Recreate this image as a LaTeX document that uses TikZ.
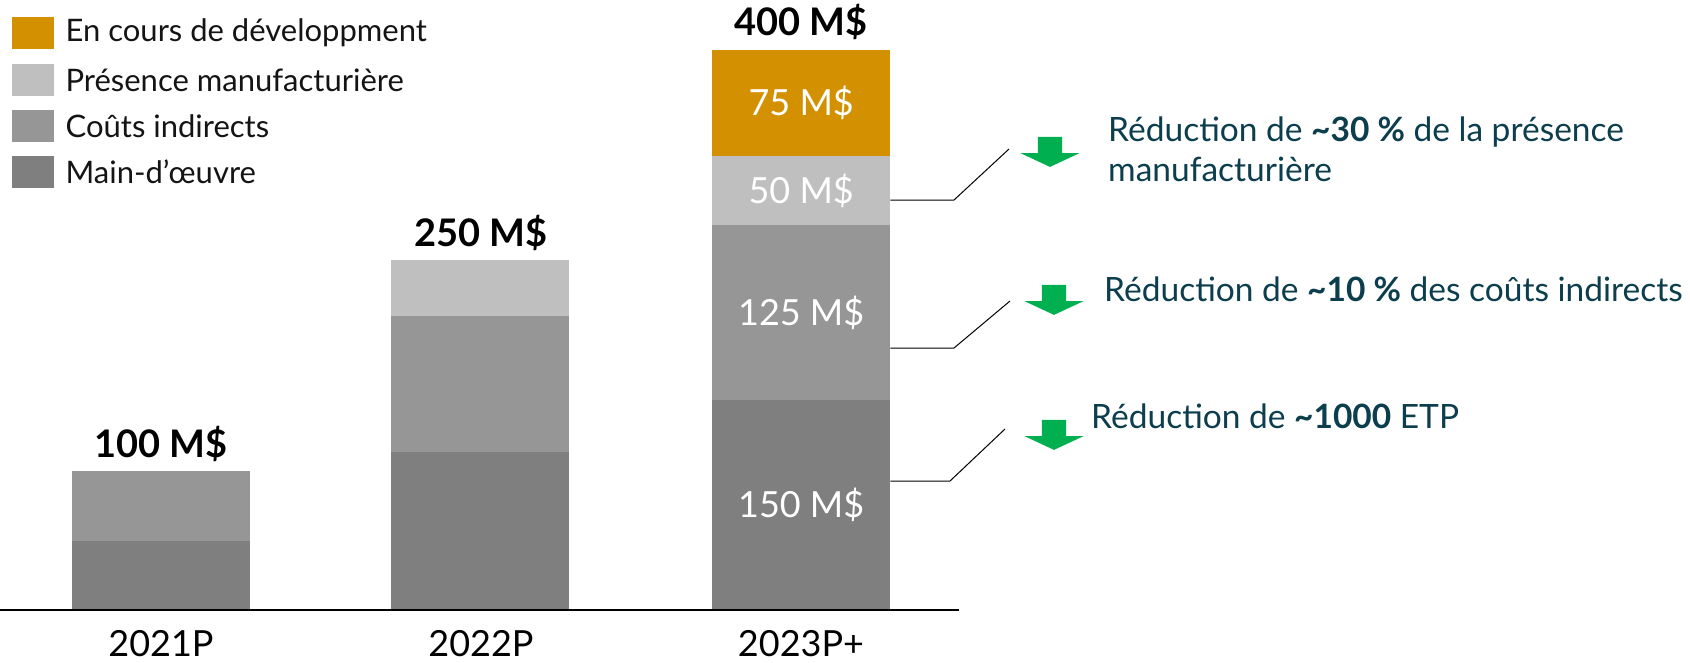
\documentclass[tikz,border=0pt]{standalone}
\usepackage{fontspec}
\setmainfont{Lato}
\usetikzlibrary{positioning,shapes.arrows}
\definecolor{devclr}{RGB}{211,144,0}
\definecolor{presclr}{RGB}{191,191,191}
\definecolor{indclr}{RGB}{150,150,150}
\definecolor{mainclr}{RGB}{127,127,127}
\definecolor{noteclr}{RGB}{12,62,78}
\definecolor{arrclr}{RGB}{0,176,80}
\definecolor{txtclr}{RGB}{20,20,20}
\tikzset{
  seg/.style={rectangle,inner sep=0pt,minimum width=178pt,anchor=north west,
    font=\fontsize{36}{42}\selectfont,text=white},
  tot/.style={font=\fontsize{38}{44}\selectfont\bfseries,text=black},
  yr/.style={font=\fontsize{36}{40}\selectfont,text=black,inner sep=0pt},
  key/.style={rectangle,inner sep=0pt,minimum width=42pt,minimum height=32pt,
    anchor=north west},
  keytxt/.style={font=\fontsize{31}{36}\selectfont,text=txtclr,anchor=west,
    inner sep=0pt},
  note/.style={font=\fontsize{33.5}{40}\selectfont,text=noteclr,anchor=west,
    align=left,inner sep=0pt},
  dnarr/.style={single arrow,shape border rotate=270,fill=arrclr,inner sep=12pt,
    minimum height=29pt,minimum width=59pt,single arrow head extend=17.5pt,
    single arrow tip angle=130},
  lead/.style={draw=black,line width=1pt},
}
\begin{document}
\begin{tikzpicture}[x=1pt,y=-1pt]
  \useasboundingbox[fill=white] (0,0) rectangle (1690,662);

  % legend
  \node[key,fill=devclr]  (k1) at (12,17)  {};
  \node[key,fill=presclr] (k2) at (12,64)  {};
  \node[key,fill=indclr]  (k3) at (12,110) {};
  \node[key,fill=mainclr] (k4) at (12,156) {};
  \node[keytxt,right=11pt of k1] {En cours de développment};
  \node[keytxt,right=11pt of k2] {Présence manufacturière};
  \node[keytxt,right=11pt of k3] {Coûts indirects};
  \node[keytxt,right=11pt of k4] {Main-d’œuvre};

  % bars
  \node[seg,fill=indclr,minimum height=70pt]   (c1) at (72,471)  {};
  \node[seg,fill=mainclr,minimum height=69pt]  (m1) at (72,541)  {};
  \node[seg,fill=presclr,minimum height=56pt]  (p2) at (391,260) {};
  \node[seg,fill=indclr,minimum height=136pt]  (c2) at (391,316) {};
  \node[seg,fill=mainclr,minimum height=158pt] (m2) at (391,452) {};
  \node[seg,fill=devclr,minimum height=106pt]  (d3) at (712,50)  {75 M\$};
  \node[seg,fill=presclr,minimum height=69pt]  (p3) at (712,156) {50 M\$};
  \node[seg,fill=indclr,minimum height=175pt]  (c3) at (712,225) {125 M\$};
  \node[seg,fill=mainclr,minimum height=210pt] (m3) at (712,400) {150 M\$};

  \draw[line width=2pt] (0,610) -- (959,610);

  \node[tot] (t1) at (161,444) {100 M\$};
  \node[tot] (t2) at (481,233) {250 M\$};
  \node[tot] (t3) at (801,22)  {400 M\$};
  \node[yr] (y1) at (161,644) {2021P};
  \node[yr] (y2) at (481,644) {2022P};
  \node[yr] (y3) at (801,644) {2023P+};

  % reductions
  \node[dnarr] (a1) at (1050,149) {};
  \node[dnarr] (a2) at (1054,297) {};
  \node[dnarr] (a3) at (1054,432) {};
  \node[note] (n1) at (1108,149) {Réduction de \textbf{\textasciitilde30 \%} de la présence\\manufacturière};
  \node[note] (n2) at (1104,289) {Réduction de \textbf{\textasciitilde10 \%} des coûts indirects};
  \node[note] (n3) at (1091,416) {Réduction de \textbf{\textasciitilde1000} ETP};

  \coordinate (e1) at (954,200);
  \coordinate (e2) at (954,348);
  \coordinate (e3) at (950,481);
  \coordinate (f1) at (1009,149);
  \coordinate (f2) at (1010,301);
  \coordinate (f3) at (1005,429);
  \draw[lead] (p3.east |- e1) -- (e1) -- (f1);
  \draw[lead] (c3.east |- e2) -- (e2) -- (f2);
  \draw[lead] (m3.east |- e3) -- (e3) -- (f3);
\end{tikzpicture}
\end{document}
